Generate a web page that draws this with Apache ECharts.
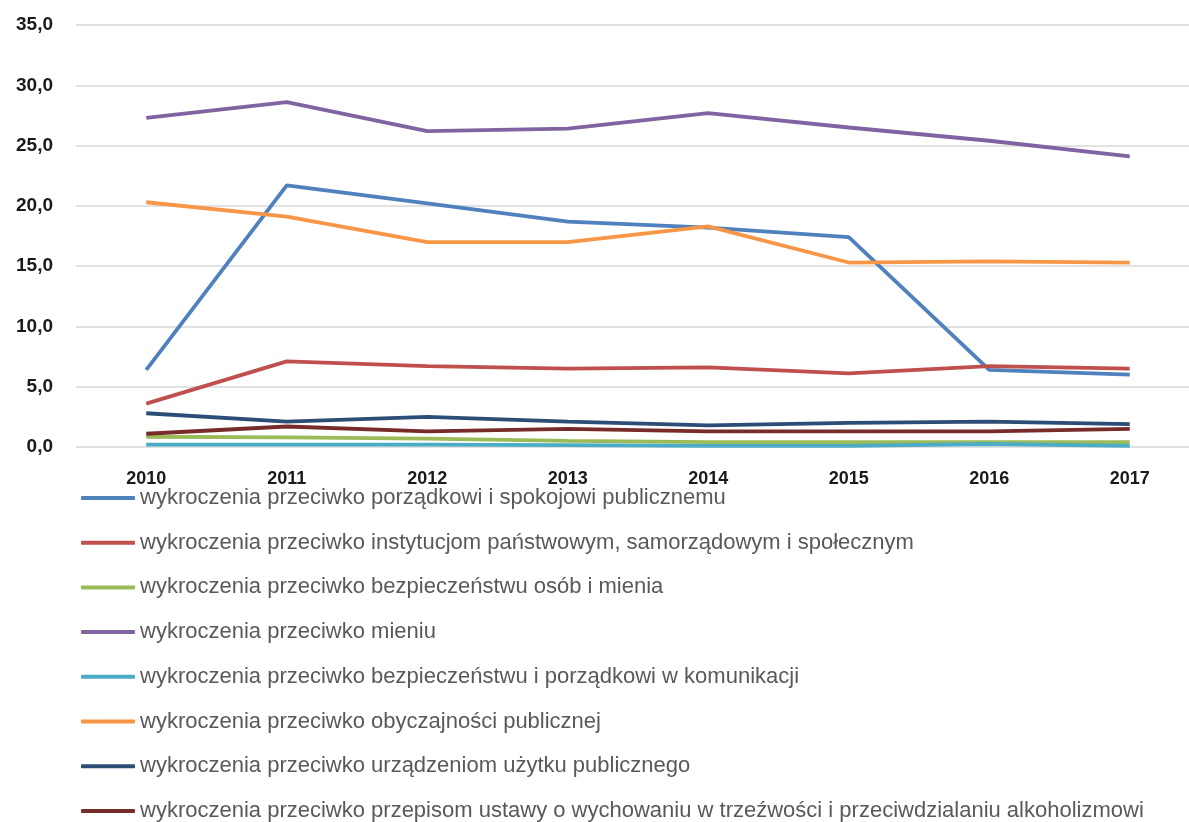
<!DOCTYPE html>
<html><head><meta charset="utf-8">
<script src="https://cdn.jsdelivr.net/npm/echarts@6/dist/echarts.min.js"></script>
<style>html,body{margin:0;padding:0;background:#fff;overflow:hidden}#c{width:1200px;height:822px}</style>
</head><body><div id="c"></div>
<script>
const years = ['2010','2011','2012','2013','2014','2015','2016','2017'];
const names = [
 'wykroczenia przeciwko porządkowi i spokojowi publicznemu',
 'wykroczenia przeciwko instytucjom państwowym, samorządowym i społecznym',
 'wykroczenia przeciwko bezpieczeństwu osób i mienia',
 'wykroczenia przeciwko mieniu',
 'wykroczenia przeciwko bezpieczeństwu i porządkowi w komunikacji',
 'wykroczenia przeciwko obyczajności publicznej',
 'wykroczenia przeciwko urządzeniom użytku publicznego',
 'wykroczenia przeciwko przepisom ustawy o wychowaniu w trzeźwości i przeciwdzialaniu alkoholizmowi'
];
const porzadek = [6.4, 21.7, 20.2, 18.7, 18.2, 17.4, 6.4, 6.0];
const instytucje = [3.6, 7.1, 6.7, 6.5, 6.6, 6.1, 6.7, 6.5];
const bezpOsob = [0.85, 0.8, 0.7, 0.5, 0.4, 0.4, 0.4, 0.4];
const mienie = [27.3, 28.6, 26.2, 26.4, 27.7, 26.5, 25.4, 24.1];
const komunikacja = [0.2, 0.2, 0.2, 0.15, 0.1, 0.1, 0.25, 0.1];
const obyczajnosc = [20.3, 19.1, 17.0, 17.0, 18.3, 15.3, 15.4, 15.3];
const urzadzenia = [2.8, 2.1, 2.5, 2.1, 1.8, 2.0, 2.1, 1.9];
const alkohol = [1.1, 1.7, 1.3, 1.5, 1.3, 1.3, 1.3, 1.5];
const colors = ['#4F81BD','#C0504D','#9BBB59','#8064A2','#4BACC6','#F79646','#2C4D75','#772C2A'];
const values = [porzadek, instytucje, bezpOsob, mienie, komunikacja, obyczajnosc, urzadzenia, alkohol];

const chart = echarts.init(document.getElementById('c'));
chart.setOption({
  animation: false,
  color: colors,
  grid: {left: 76, width: 1124, top: 25, height: 422, containLabel: false},
  xAxis: {
    type: 'category', data: years, boundaryGap: true,
    axisLine: {show: false}, axisTick: {show: false},
    axisLabel: {margin: 23, color: '#1a1a1a', fontWeight: 'bold', fontSize: 18, fontFamily: 'Liberation Sans'}
  },
  yAxis: {
    type: 'value', min: 0, max: 35, interval: 5,
    axisLine: {show: false}, axisTick: {show: false},
    splitLine: {lineStyle: {color: '#D9D9D9', width: 1.5}},
    axisLabel: {margin: 23, color: '#1a1a1a', fontWeight: 'bold', fontSize: 19, fontFamily: 'Liberation Sans',
      formatter: v => v.toFixed(1).replace('.', ',')}
  },
  legend: {
    orient: 'vertical', left: 81, top: 487, padding: 0, height: 400,
    icon: 'roundRect', itemWidth: 54, itemHeight: 4, itemGap: 22.7,
    textStyle: {color: '#595959', fontSize: 22, lineHeight: 20, fontFamily: 'Liberation Sans'},
    data: names
  },
  series: names.map((n, i) => ({
    name: n, type: 'line', data: values[i], symbol: 'none',
    lineStyle: {width: 3.8, color: colors[i]}, itemStyle: {color: colors[i]}
  }))
});
</script></body></html>
